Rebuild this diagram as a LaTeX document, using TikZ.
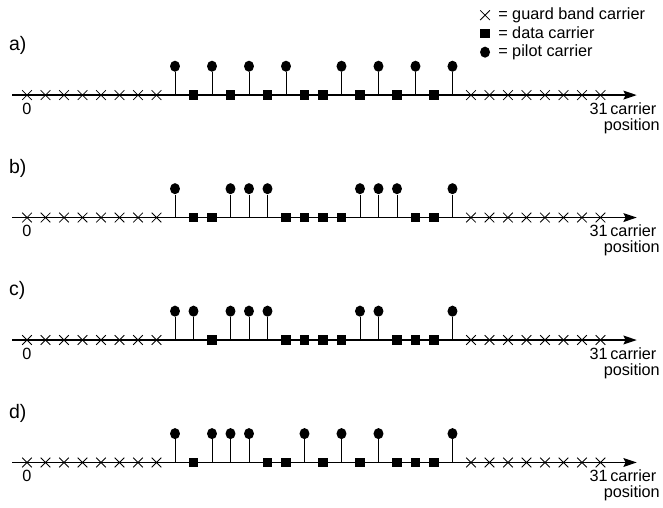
\documentclass[tikz,border=0pt]{standalone}
\usepackage{fontspec}
\setmainfont{Liberation Sans}
\usetikzlibrary{arrows.meta,shapes.misc,shapes.geometric}
\begin{document}
\begin{tikzpicture}[>={Stealth[length=0.36cm,width=0.24cm,inset=0.06cm]},
  font=\fontsize{12.5}{12.5}\selectfont,
  txt/.style={inner sep=0pt},
  guard/.style={cross out,draw=black,line width=0.6pt,inner sep=0pt,minimum size=0.24cm},
  data/.style={rectangle,fill=black,inner sep=0pt,minimum size=0.25cm},
  pilot/.style={ellipse,fill=black,inner sep=0pt,minimum width=0.27cm,minimum height=0.3cm}]
\useasboundingbox (-0.73,-11.16) rectangle (17.19,2.57);
% legend
\node[guard] (lg) at (12.38,2.16) {};
\node[txt,anchor=base west] (lgt) at (12.73,2.03) {= guard band carrier};
\node[data] (ld) at (12.38,1.67) {};
\node[txt,anchor=base west] (ldt) at (12.73,1.54) {= data carrier};
\node[pilot] (lp) at (12.38,1.16) {};
\node[txt,anchor=base west] (lpt) at (12.73,1.03) {= pilot carrier};
% the four carrier patterns
\foreach \p/\y/\pl/\dl in {
  a/0/{8,10,12,14,17,19,21,23}/{9,11,13,15,16,18,20,22},
  b/-3.31/{8,11,12,13,18,19,20,23}/{9,10,14,15,16,17,21,22},
  c/-6.62/{8,9,11,12,13,18,19,23}/{10,14,15,16,17,20,21,22},
  d/-9.93/{8,10,11,12,15,17,19,23}/{9,13,14,16,18,20,21,22}}
{
\coordinate (s\p) at (-0.4,\y);
\coordinate (e\p) at (16.48,\y);
\draw[->,line width=1pt] (s\p) -- (e\p);
\foreach \i in {0,...,7}
\node[guard] (g\p\i) at (\i*0.5,\y) {};
\foreach \i in {24,...,31}
\node[guard] (g\p\i) at (\i*0.5,\y) {};
\foreach \i in \dl
\node[data] (d\p\i) at (\i*0.5,\y) {};
\foreach \i in \pl {
\coordinate (c\p\i) at (\i*0.5,\y);
\node[pilot] (p\p\i) at (\i*0.5,\y+0.78) {};
\draw[line width=0.6pt] (c\p\i) -- (p\p\i);
}
\node[txt,anchor=base west,font=\fontsize{15}{15}\selectfont] (t\p) at (-0.49,\y+1.2) {\p)};
\node[txt,anchor=base] (z\p) at (0,\y-0.52) {0};
\node[txt,anchor=base east] (n\p) at (15.70,\y-0.52) {31};
\node[txt,anchor=base west] (cr\p) at (15.76,\y-0.52) {carrier};
\node[txt,anchor=base east] (ps\p) at (17.11,\y-0.95) {position};
}
\end{tikzpicture}
\end{document}
